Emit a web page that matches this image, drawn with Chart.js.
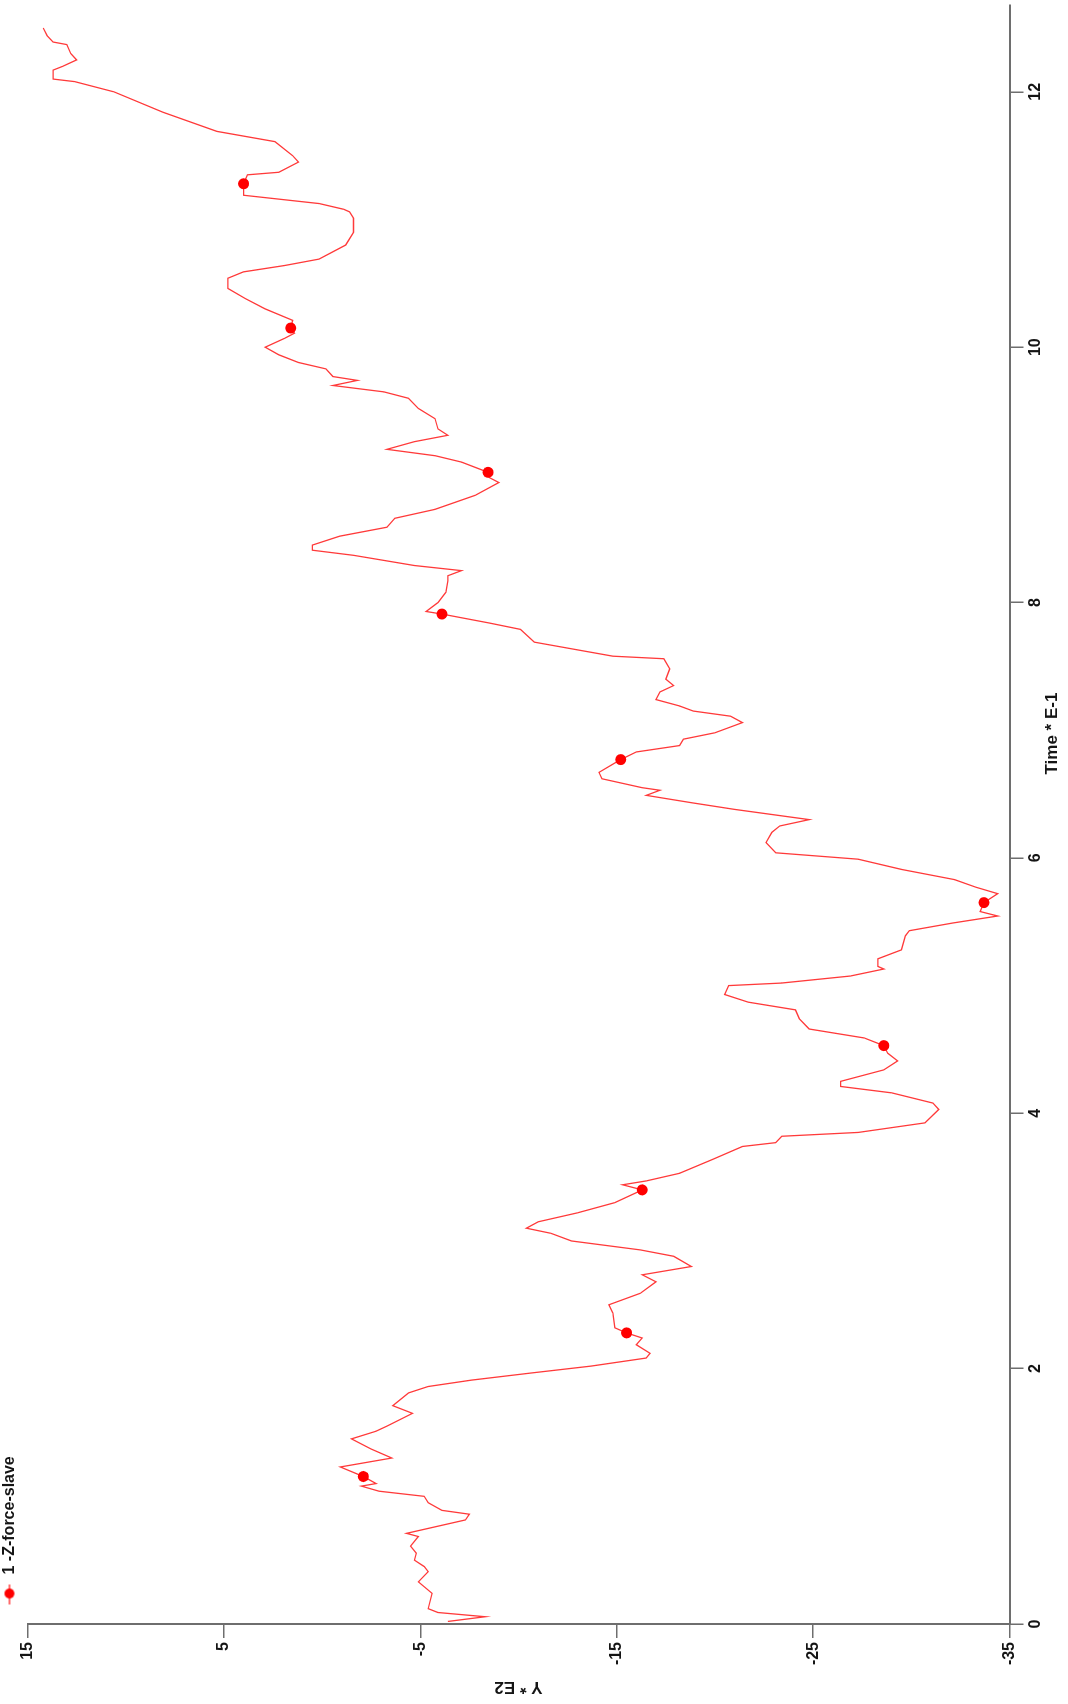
<!DOCTYPE html>
<html>
<head>
<meta charset="utf-8">
<script src="https://cdn.jsdelivr.net/npm/chart.js@4.4.1/dist/chart.umd.min.js"></script>
<style>
html,body{margin:0;padding:0;background:#fff;overflow:hidden;width:1068px;height:1704px;}
#wrap{position:absolute;left:0;top:0;width:1704px;height:1068px;transform-origin:0 0;transform:translate(0,1704px) rotate(-90deg);background:#fff;}
canvas{display:block;}
</style>
</head>
<body>
<div id="wrap"><canvas id="c" width="1704" height="1068" style="width:1704px;height:1068px"></canvas></div>
<script>
const seriesName = '1 -Z-force-slave';
const xTitle = 'Time * E-1';
const yTitle = 'Y * E2';
const timeTicks = [0, 2, 4, 6, 8, 10, 12];
const forceTicks = [15, 5, -5, -15, -25, -35];
const timeValues = [
0.02,0.057,0.09,0.12,0.24,0.33,0.41,0.45,0.50,0.555,
0.61,0.685,0.71,0.815,0.86,0.89,0.95,1.0,1.04,1.08,
1.10,1.155,1.23,1.30,1.37,1.45,1.51,1.55,1.65,1.71,
1.81,1.86,1.91,1.965,2.02,2.083,2.12,2.187,2.24,2.28,
2.32,2.435,2.50,2.59,2.68,2.735,2.80,2.88,2.93,3.0,
3.06,3.10,3.15,3.22,3.30,3.40,3.44,3.47,3.53,3.64,
3.74,3.77,3.82,3.85,3.925,4.03,4.08,4.16,4.21,4.25,
4.34,4.41,4.47,4.53,4.59,4.66,4.74,4.81,4.87,4.93,
5.0,5.02,5.075,5.13,5.15,5.21,5.28,5.39,5.43,5.49,
5.545,5.58,5.65,5.72,5.77,5.83,5.91,5.99,6.04,6.12,
6.20,6.25,6.30,6.38,6.43,6.49,6.53,6.55,6.62,6.67,
6.77,6.83,6.88,6.93,6.98,7.06,7.11,7.15,7.19,7.24,
7.30,7.35,7.40,7.48,7.56,7.58,7.69,7.79,7.84,7.91,
7.93,8.0,8.08,8.17,8.21,8.25,8.29,8.37,8.41,8.45,
8.52,8.59,8.66,8.73,8.84,8.94,8.98,9.02,9.10,9.15,
9.20,9.26,9.31,9.36,9.44,9.52,9.60,9.65,9.70,9.74,
9.77,9.83,9.88,9.94,10.0,10.07,10.11,10.15,10.21,10.30,
10.38,10.46,10.54,10.59,10.64,10.69,10.80,10.90,11.01,11.06,
11.08,11.125,11.19,11.28,11.35,11.37,11.45,11.50,11.61,11.69,
11.84,12.0,12.08,12.10,12.17,12.20,12.25,12.30,12.37,12.39,
12.44,12.50
];
const forceValues = [
-6.4,-8.3,-5.9,-5.4,-5.6,-4.9,-5.4,-5.2,-4.7,-4.8,
-4.5,-4.9,-4.3,-7.3,-7.5,-6.1,-5.4,-5.2,-2.9,-2.0,
-2.75,-2.1,-0.93,-3.55,-2.5,-1.5,-2.75,-3.3,-4.6,-3.6,
-4.4,-5.4,-7.6,-10.6,-13.7,-16.5,-16.7,-16.0,-16.3,-15.5,
-14.9,-14.8,-14.6,-16.2,-17.0,-16.3,-18.8,-17.9,-16.2,-12.7,
-11.65,-10.4,-11.0,-13.0,-14.9,-16.3,-15.3,-16.5,-18.2,-19.9,
-21.4,-23.1,-23.4,-27.3,-30.7,-31.4,-31.1,-29.0,-26.4,-26.4,
-28.6,-29.3,-28.8,-28.6,-27.6,-24.8,-24.3,-24.1,-21.7,-20.5,
-20.7,-23.4,-26.9,-28.6,-28.3,-28.3,-29.5,-29.7,-29.9,-32.1,
-34.4,-33.5,-33.7,-34.4,-33.3,-32.2,-29.5,-27.3,-23.1,-22.6,
-22.9,-23.3,-24.8,-21.0,-18.9,-16.5,-17.2,-16.3,-14.25,-14.1,
-15.2,-16.0,-18.2,-18.4,-20.0,-21.4,-20.8,-18.9,-18.2,-17.0,
-17.2,-17.9,-17.5,-17.7,-17.4,-14.8,-10.8,-10.1,-8.5,-6.1,
-5.3,-5.9,-6.3,-6.4,-6.4,-7.1,-4.7,-1.6,0.5,0.5,
-0.9,-3.3,-3.7,-5.75,-7.8,-9.0,-8.5,-8.45,-7.1,-5.75,
-3.3,-4.7,-6.4,-5.9,-5.75,-4.9,-4.4,-3.15,-0.55,-1.8,
-0.55,-0.2,1.2,2.2,2.9,1.9,1.4,1.6,1.5,2.9,
3.9,4.8,4.8,4.0,1.9,0.15,-1.2,-1.6,-1.6,-1.4,
-1.1,0.15,4.0,4.0,3.8,2.2,1.2,1.5,2.4,5.35,
8.1,10.6,12.6,13.7,13.7,13.2,12.5,12.8,13.0,13.7,
14.0,14.2
];
const markerTimes = [1.155, 2.28, 3.40, 4.53, 5.65, 6.77, 7.91, 9.02, 10.15, 11.28];

const lineColor = '#ff3a3a';
const markColor = '#ff0000';
const axisColor = '#6e6e6e';
const textColor = '#151515';
const fontFamily = '"Liberation Sans", Arial, Helvetica, sans-serif';
const markerSet = new Set(markerTimes);

const points = timeValues.map((t, i) => ({x: t, y: forceValues[i]}));

function legendIcon() {
  const c = document.createElement('canvas');
  c.width = 40; c.height = 12;
  const g = c.getContext('2d');
  g.strokeStyle = lineColor; g.lineWidth = 1.5;
  g.beginPath(); g.moveTo(18, 6); g.lineTo(38, 6); g.stroke();
  g.fillStyle = markColor;
  g.beginPath(); g.arc(29, 6, 5, 0, Math.PI * 2); g.fill();
  return c;
}

const timeTitlePlugin = {
  id: 'timeTitle',
  afterDraw(chart) {
    const {ctx, chartArea} = chart;
    ctx.save();
    ctx.font = 'bold 17px ' + fontFamily;
    ctx.fillStyle = textColor;
    ctx.textAlign = 'center';
    ctx.textBaseline = 'middle';
    ctx.fillText(xTitle, chartArea.left + chartArea.width * 0.55, chart.height - 16);
    ctx.restore();
  }
};

new Chart(document.getElementById('c'), {
  type: 'line',
  data: {
    datasets: [{
      label: seriesName,
      data: points,
      borderColor: lineColor,
      backgroundColor: markColor,
      borderWidth: 1.3,
      tension: 0,
      fill: false,
      pointRadius: ctx => markerSet.has(timeValues[ctx.dataIndex]) ? 5.5 : 0,
      pointHoverRadius: 0,
      pointBackgroundColor: markColor,
      pointBorderWidth: 0
    }]
  },
  options: {
    responsive: false,
    devicePixelRatio: 1,
    animation: false,
    events: [],
    layout: {padding: {left: 0, right: 5, top: 0, bottom: 0}},
    plugins: {
      legend: {
        display: true,
        position: 'top',
        align: 'start',
        fullSize: false,
        labels: {
          usePointStyle: true,
          pointStyle: legendIcon(),
          pointStyleWidth: 40,
          boxHeight: 12,
          padding: 1.5,
          color: textColor,
          font: {size: 16, weight: 'bold', family: fontFamily}
        }
      },
      tooltip: {enabled: false}
    },
    scales: {
      x: {
        type: 'linear',
        position: 'bottom',
        min: 0,
        max: 12.68,
        afterBuildTicks: s => { s.ticks = timeTicks.map(v => ({value: v})); },
        afterFit: s => { s.height = 58.5; },
        ticks: {
          color: textColor,
          font: {size: 16, weight: 'bold', family: fontFamily},
          padding: 2,
          maxRotation: 0,
          autoSkip: false
        },
        grid: {drawOnChartArea: false, drawTicks: true, tickLength: 14, color: axisColor, lineWidth: 1.5},
        border: {display: true, color: axisColor, width: 2},
        title: {display: false}
      },
      y: {
        type: 'linear',
        position: 'left',
        min: -35,
        max: 15,
        afterBuildTicks: s => { s.ticks = forceTicks.map(v => ({value: v})); },
        afterFit: s => { s.width = 80; },
        ticks: {
          color: textColor,
          font: {size: 16, weight: 'bold', family: fontFamily},
          padding: 4,
          autoSkip: false
        },
        grid: {drawOnChartArea: false, drawTicks: true, tickLength: 14, color: axisColor, lineWidth: 1.5},
        border: {display: true, color: axisColor, width: 2},
        title: {
          display: true,
          text: yTitle,
          color: textColor,
          font: {size: 17, weight: 'bold', family: fontFamily},
          padding: {top: 7, bottom: 0}
        }
      }
    }
  },
  plugins: [timeTitlePlugin]
});
</script>
</body>
</html>
